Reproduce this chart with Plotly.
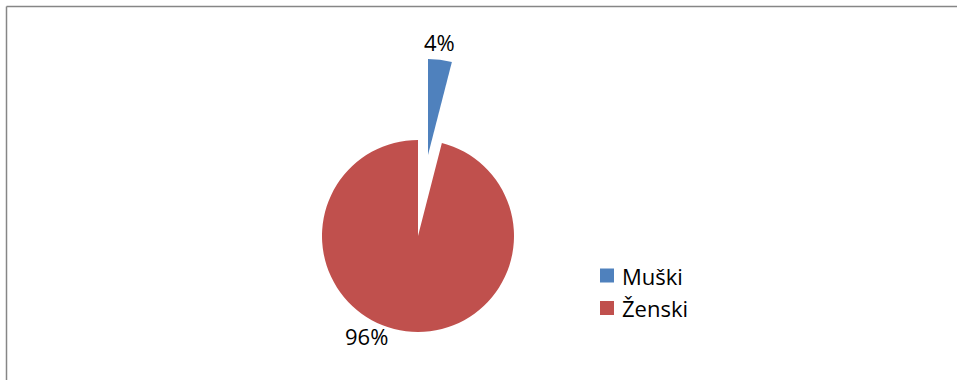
import plotly.graph_objects as go

labels = ["Muški", "Ženski"]
values = [4, 96]
colors = ["#4F81BD", "#C0504D"]

W, H = 957, 380
FONT = "Open Sans"
R = 96  # pie radius in px

def dom(cx, cy, r):
    return dict(x=[(cx - r) / W, (cx + r) / W], y=[1 - (cy + r) / H, 1 - (cy - r) / H])

fig = go.Figure()
# main pie: only the large slice shown
fig.add_trace(go.Pie(
    labels=labels, values=values, sort=False, direction="clockwise", rotation=0,
    marker=dict(colors=["rgba(0,0,0,0)", colors[1]]),
    textinfo="none", domain=dom(418, 236, R), showlegend=False, hoverinfo="skip",
))
# exploded small slice
fig.add_trace(go.Pie(
    labels=labels, values=values, sort=False, direction="clockwise", rotation=0,
    marker=dict(colors=[colors[0], "rgba(0,0,0,0)"]),
    textinfo="none", domain=dom(428, 155, R), showlegend=False, hoverinfo="skip",
))

total = sum(values)
pct_text = [f"{round(100 * v / total)}%" for v in values]
pct_pos = [(439, 42), (366, 336)]

shapes = [
    dict(type="line", xref="paper", yref="paper", x0=6.5 / W, x1=1.01, y0=1 - 6.5 / H, y1=1 - 6.5 / H,
         line=dict(color="#868686", width=1.5)),
    dict(type="line", xref="paper", yref="paper", x0=6.5 / W, x1=6.5 / W, y0=1 - 6.5 / H, y1=-0.01,
         line=dict(color="#868686", width=1.5)),
]
annotations = []
for t, (px, py) in zip(pct_text, pct_pos):
    annotations.append(dict(xref="paper", yref="paper", x=px / W, y=1 - py / H, xanchor="center",
                            yanchor="middle", text=t, showarrow=False,
                            font=dict(family=FONT, size=22, color="black")))
leg_y = [275.5, 308]
for lab, col, yy in zip(labels, colors, leg_y):
    shapes.append(dict(type="rect", xref="paper", yref="paper", x0=600 / W, x1=614 / W,
                       y0=1 - (yy + 7) / H, y1=1 - (yy - 7) / H, fillcolor=col, line=dict(width=0)))
    annotations.append(dict(xref="paper", yref="paper", x=620 / W, y=1 - yy / H, xanchor="left",
                            yanchor="middle", text=lab, showarrow=False,
                            font=dict(family=FONT, size=22, color="black")))

fig.update_layout(
    width=W, height=H, margin=dict(l=0, r=0, t=0, b=0),
    paper_bgcolor="white", plot_bgcolor="white",
    shapes=shapes, annotations=annotations,
)
fig.write_html("out.html")
